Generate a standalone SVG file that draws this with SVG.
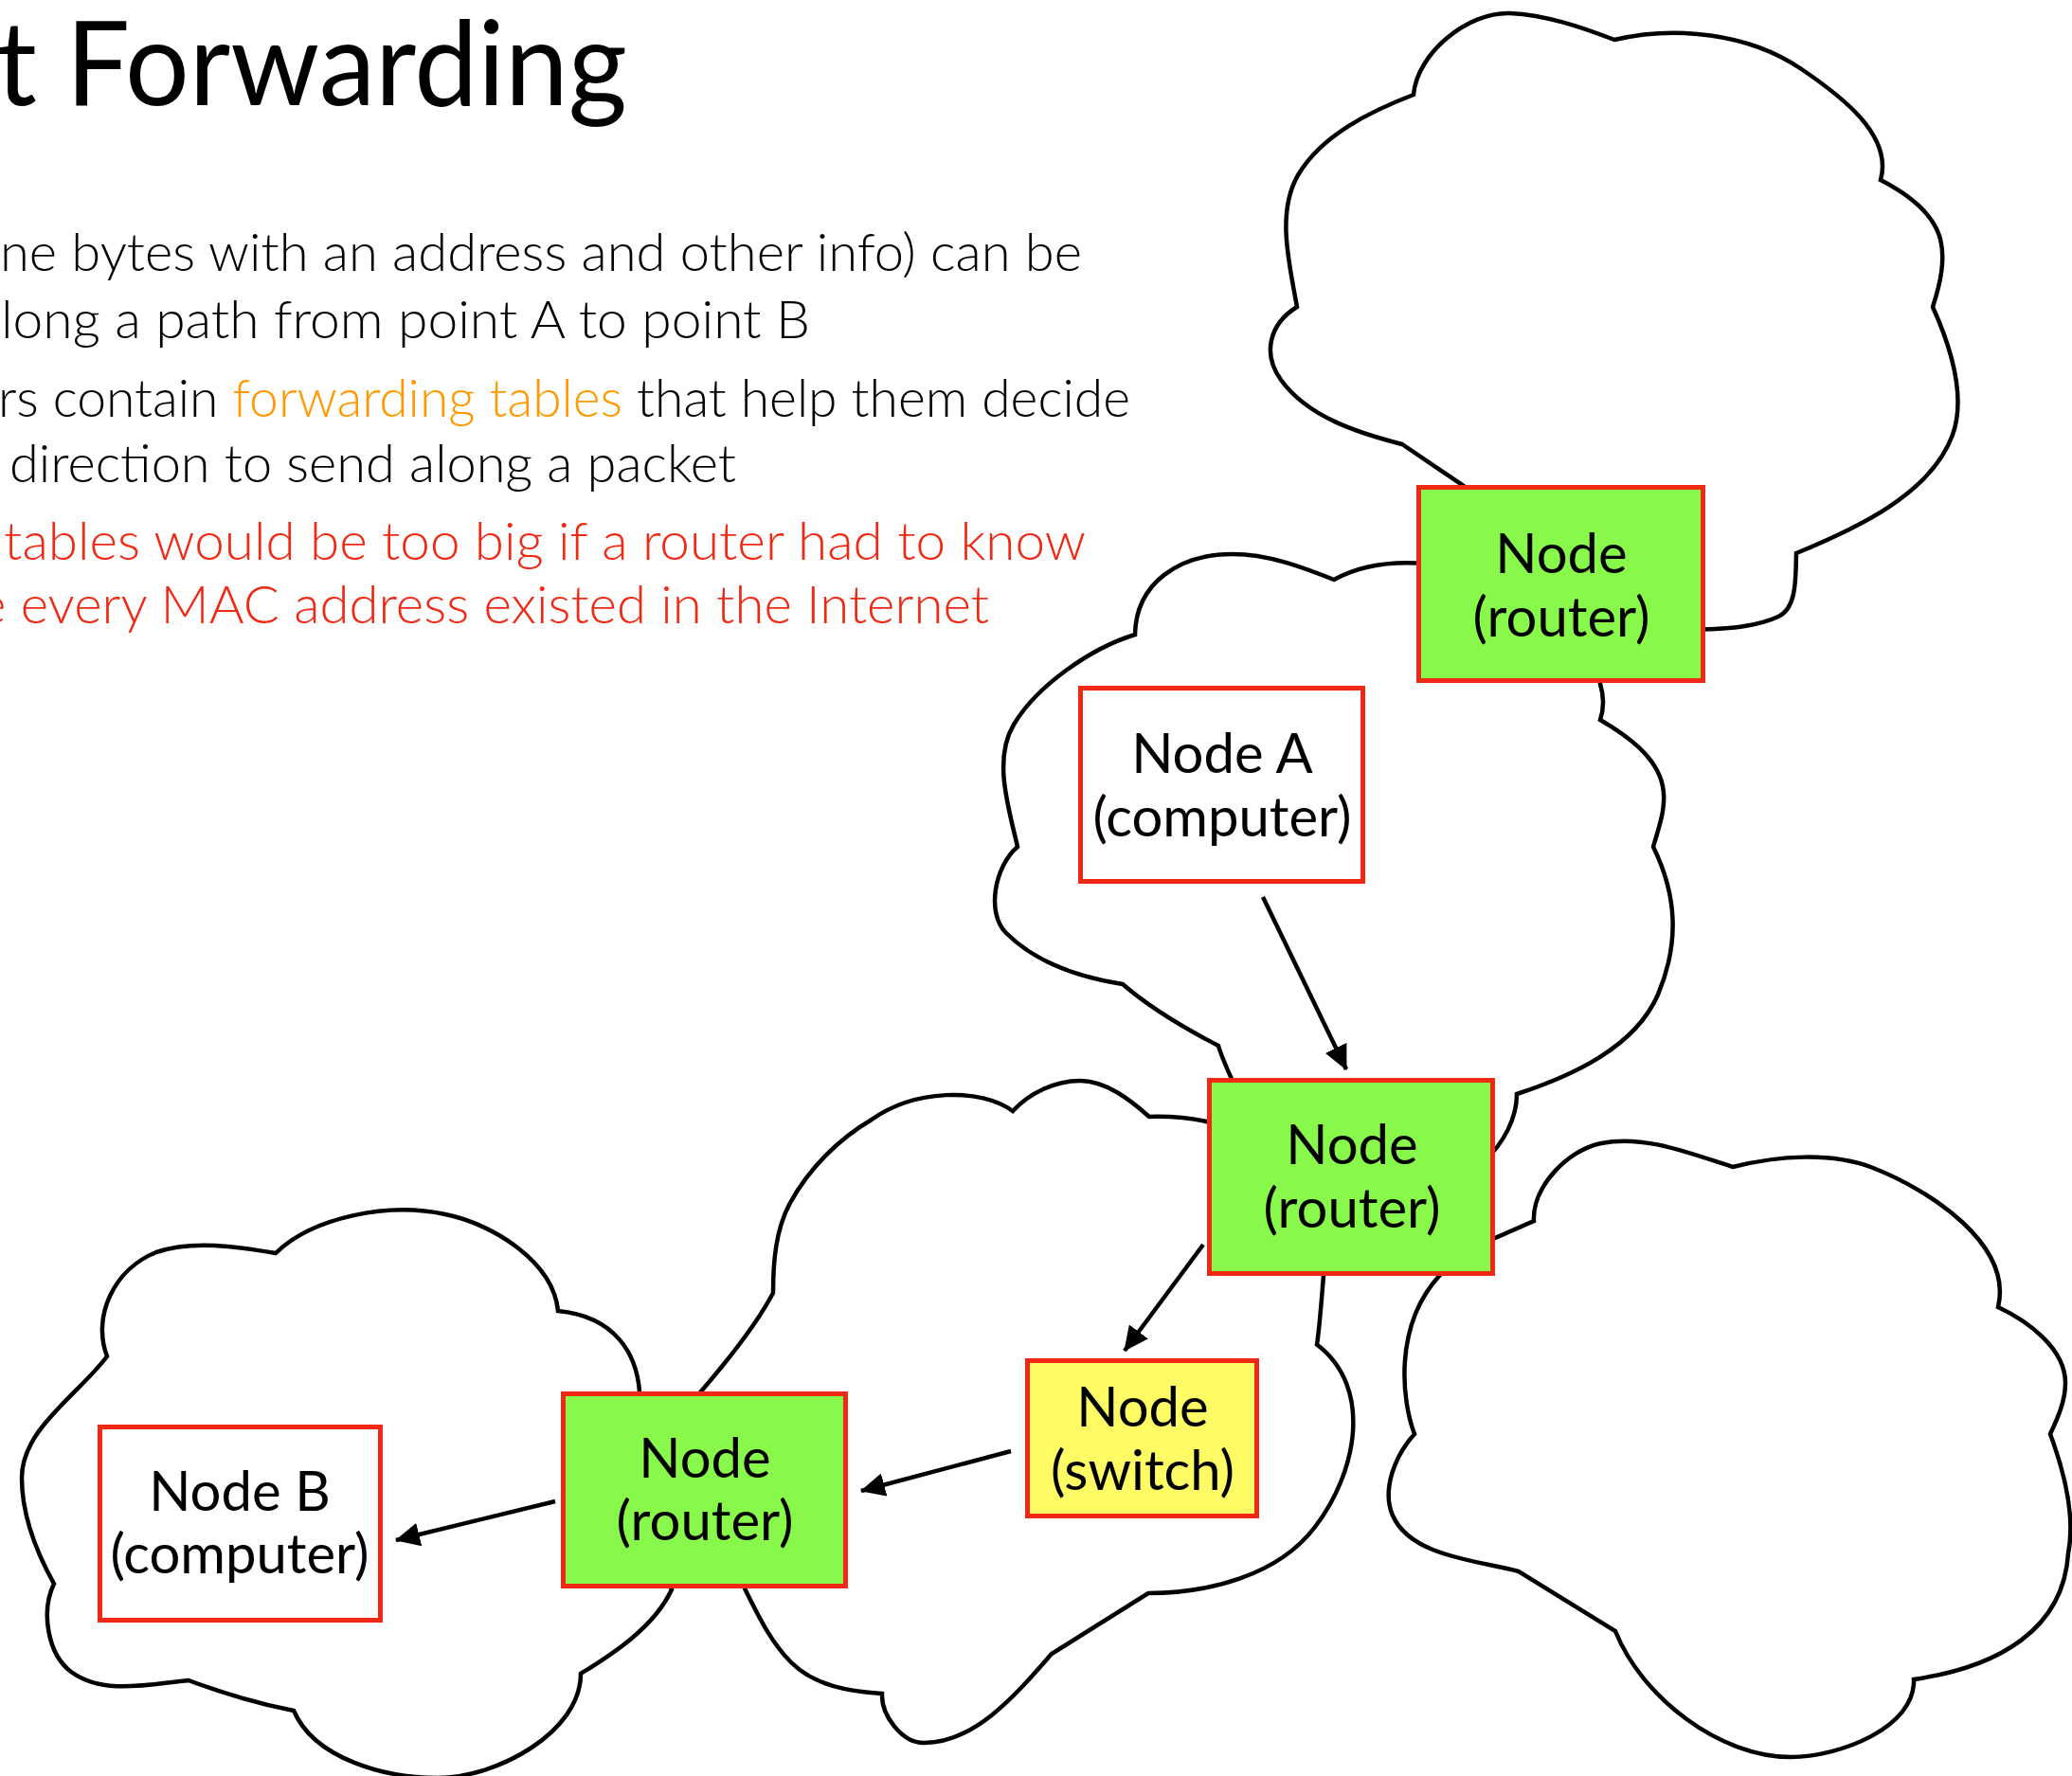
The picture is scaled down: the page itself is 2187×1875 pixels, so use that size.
<svg xmlns="http://www.w3.org/2000/svg" width="2187" height="1875" viewBox="0 0 2187 1875">
<defs>
<style>
.cloud{fill:none;stroke:#000;stroke-width:4.5;stroke-linejoin:miter;stroke-miterlimit:6}
.box{stroke:#ef2914;stroke-width:5}
.router{fill:#88f94a}
.comp{fill:#ffffff}
.switch{fill:#fefb64}
.lbl{font-family:Lato,"Liberation Sans",sans-serif;font-size:58px;fill:#000;text-anchor:middle}
.body{font-family:Lato,"Liberation Sans",sans-serif;font-weight:300;font-size:56px;fill:#000}
.title{font-family:Lato,"Liberation Sans",sans-serif;font-size:125px;fill:#000}
.conn{stroke:#000;stroke-width:4.5;fill:none}
</style>
<marker id="ah" markerUnits="userSpaceOnUse" markerWidth="27" markerHeight="25" refX="25" refY="12.5" orient="auto">
<path d="M0,0 L26,12.5 L0,25 z" fill="#000"/>
</marker>
</defs>
<rect width="2187" height="1875" fill="#fff"/>

<g id="text">
<text class="title" x="-4" y="111" textLength="666" lengthAdjust="spacingAndGlyphs">t Forwarding</text>
<text class="body" x="0" y="286" textLength="1142" lengthAdjust="spacingAndGlyphs">ne bytes with an address and other info) can be</text>
<text class="body" x="1" y="357" textLength="854" lengthAdjust="spacingAndGlyphs">long a path from point A to point B</text>
<text class="body" x="-2" y="440" textLength="1195" lengthAdjust="spacingAndGlyphs">rs contain <tspan fill="#ff9900">forwarding tables</tspan> that help them decide</text>
<text class="body" x="10" y="509" textLength="767" lengthAdjust="spacingAndGlyphs">direction to send along a packet</text>
<text class="body" x="4" y="591" textLength="1142" lengthAdjust="spacingAndGlyphs" style="fill:#ef2914">tables would be too big if a router had to know</text>
<text class="body" x="-23" y="658" textLength="1067" lengthAdjust="spacingAndGlyphs" style="fill:#ef2914">e every MAC address existed in the Internet</text>
</g>

<g id="clouds">
<path id="cloud1" class="cloud" d="M1570,530 L1480,469 C1433,457 1380,440 1352,401 C1332,373 1340,342 1369,324 C1361,279 1347,224.6 1370,185 C1394.5,143 1446,117.6 1492,100 C1495.5,56 1550,12 1594,14 C1632,16 1668.7,28.3 1704,42 C1768,26.8 1845,35 1900,72 C1941.5,100 1998.5,142 1985,190 C2010,203 2038.4,222 2047,249 C2054.5,272.8 2047.8,300 2040,324 C2058.5,365 2076,417 2061,459 C2038,522 1958,558.5 1896,584 C1895,607 1897.7,641.3 1877,651 C1851,663 1819,663.5 1790,665 Z"/>
<path id="cloud2" class="cloud" d="M1530,598 C1480,590 1440,594 1408,612 C1373.6,598.3 1338,585 1301,585 C1245,585 1199,615 1198,670 C1152,684 1094.5,723.7 1070,765 C1048,802 1064.5,852 1074,894 C1050.4,914 1040.3,963.3 1062,985 C1093.5,1016.5 1140.5,1032 1185,1039 C1215,1065 1255,1088 1286,1104 C1290,1118 1296,1130 1305,1150 L1565,1228 C1588,1206 1601,1180 1601,1155 C1659,1136 1725.6,1106 1750,1050 C1773,995 1770,945 1745,894 C1751,873 1759.4,851.6 1755,830 C1748.6,798.6 1716.5,776 1689,760 C1693,748 1693,735 1689,722 L1689,700 Z"/>
<path id="cloud3" class="cloud" d="M1300,1190 L1273,1184 Q1245,1178 1213,1179 C1193,1161 1167,1141 1140,1141 C1114,1141 1086.7,1153.8 1069,1173 C1035,1148 965,1150 920,1182 C885,1202.5 853.7,1234 834,1270 C818.6,1298 816,1333 816,1365 Q795,1405 740,1469 L760,1500 L786,1660 L786,1677 C800,1705 813.3,1733.3 835,1755 C859.5,1779.5 896,1786 931,1788 C930,1811 952,1840 975,1840 C1030,1840 1074,1787 1110,1746 L1212,1682 C1276,1682 1349.6,1663 1388,1612 C1432,1555 1450,1465 1390,1419.5 C1393,1400 1395,1370 1397,1347 L1397,1330 Z"/>
<path id="cloud4" class="cloud" d="M1560,1310 L1578,1307 L1619,1289 C1617,1253 1655,1214 1690,1207 C1735.6,1197.6 1784.4,1218 1829,1232 C1876.5,1220 1933,1216 1977,1233 C2038,1257 2124.6,1314 2109,1380 C2141,1395 2180,1424 2180,1460 C2180,1479 2172,1497 2164,1514 C2178.7,1553.5 2191,1599 2183,1640 C2178,1720 2110,1760 2020,1773 C2022,1824 1941,1855 1890,1855 C1815,1855 1733,1792 1705,1722 L1603,1659 C1557,1647 1489,1643 1470,1600 C1458,1572 1473,1536 1493,1514 C1480,1480 1470,1400 1520,1346 L1530,1330 Z"/>
<path id="cloud5" class="cloud" d="M675,1490 L675,1469 C672,1430 650,1390 589,1384 C584,1332 520,1292 470,1282 C409,1269 330,1285 291,1323 C250,1316 203,1309 165,1322 C120,1340 97,1390 113,1432 C82,1473 23,1509 23,1560 C23,1599 38,1638 57,1672 C43,1701 50,1746 75,1765 C109,1790 157,1778 199,1774 Q255,1795 310,1806 C332,1857 406,1877 462,1877 C524,1877 613,1829 613,1767 C640,1750 690,1720 709,1678 L700,1660 Z"/>
</g>

<g id="connectors">
<line class="conn" x1="1333" y1="947" x2="1421" y2="1129" marker-end="url(#ah)"/>
<line class="conn" x1="1270" y1="1314" x2="1187" y2="1426" marker-end="url(#ah)"/>
<line class="conn" x1="1067" y1="1532" x2="909" y2="1574" marker-end="url(#ah)"/>
<line class="conn" x1="586" y1="1585" x2="418" y2="1626" marker-end="url(#ah)"/>
</g>

<g id="router-top">
<rect class="box router" x="1497.5" y="514.5" width="300" height="204"/>
<text class="lbl" x="1648" y="605">Node</text>
<text class="lbl" x="1648" y="672">(router)</text>
</g>
<g id="node-a">
<rect class="box comp" x="1140.5" y="726.5" width="298" height="204"/>
<text class="lbl" x="1290" y="816">Node A</text>
<text class="lbl" x="1290" y="883">(computer)</text>
</g>
<g id="router-mid">
<rect class="box router" x="1276.5" y="1140.5" width="299" height="204"/>
<text class="lbl" x="1427" y="1229">Node</text>
<text class="lbl" x="1427" y="1296">(router)</text>
</g>
<g id="switch">
<rect class="box switch" x="1084.5" y="1436.5" width="242" height="164"/>
<text class="lbl" x="1206" y="1506">Node</text>
<text class="lbl" x="1206" y="1573">(switch)</text>
</g>
<g id="router-low">
<rect class="box router" x="594.5" y="1471.5" width="298" height="203"/>
<text class="lbl" x="744" y="1560">Node</text>
<text class="lbl" x="744" y="1626">(router)</text>
</g>
<g id="node-b">
<rect class="box comp" x="105.5" y="1506.5" width="296" height="204"/>
<text class="lbl" x="253" y="1595">Node B</text>
<text class="lbl" x="253" y="1661">(computer)</text>
</g>
</svg>
